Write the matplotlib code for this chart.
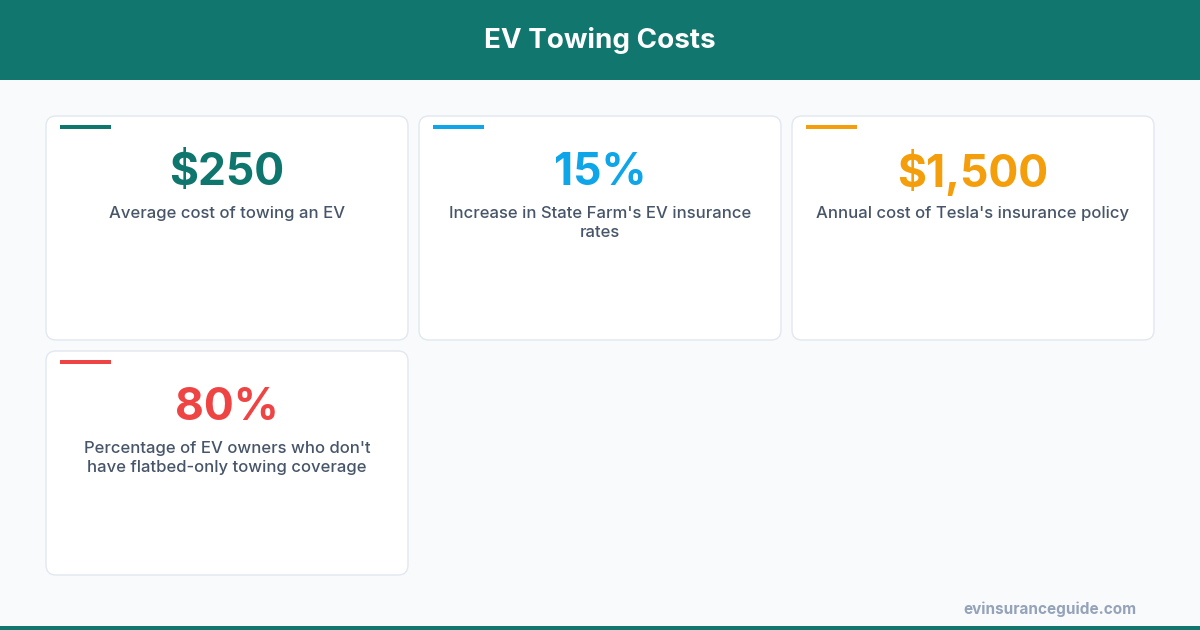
import matplotlib
matplotlib.use("Agg")
import matplotlib.pyplot as plt
from matplotlib.patches import FancyBboxPatch, Rectangle

title = "EV Towing Costs"
values = ["$250", "15%", "$1,500", "80%"]
labels = ["Average cost of towing an EV",
          "Increase in State Farm's EV insurance\nrates",
          "Annual cost of Tesla's insurance policy",
          "Percentage of EV owners who don't\nhave flatbed-only towing coverage"]
colors = ["#0f766e", "#0ea5e9", "#f59e0b", "#ef4444"]
footer = "evinsuranceguide.com"

fig = plt.figure(figsize=(12, 6.3), dpi=100)
fig.patch.set_facecolor("#f8fafc")
ax = fig.add_axes([0, 0, 1, 1])
ax.set_xlim(0, 1200); ax.set_ylim(630, 0); ax.axis("off")
FONT = "Inter"

ax.add_patch(Rectangle((0, 0), 1200, 80, color="#10766e", lw=0))
ax.text(600, 41, title, ha="center", va="center", color="white", fontsize=20, fontweight="bold", family=FONT)
ax.add_patch(Rectangle((0, 626), 1200, 4, color="#10766e", lw=0))

cw, ch = 362, 224
for i, (v, l, c) in enumerate(zip(values, labels, colors)):
    col, row = i % 3, i // 3
    x0 = 46 + col * 373
    y0 = 116 + row * 235
    ax.add_patch(FancyBboxPatch((x0, y0), cw, ch, boxstyle="round,pad=0,rounding_size=10",
                                fc="white", ec="#e2e8f0", lw=1))
    ax.add_patch(Rectangle((x0 + 14, y0 + 9), 51, 4, color=c, lw=0))
    ax.text(x0 + cw / 2, y0 + 57, v, ha="center", va="center", color=c, fontsize=32, fontweight="bold", family=FONT)
    ax.text(x0 + cw / 2, y0 + 90, l, ha="center", va="top", color="#475569", fontsize=12, fontweight="medium",
            family=FONT, linespacing=1.35)

ax.text(1136, 609, footer, ha="right", va="center", color="#94a3b8", fontsize=11, fontweight="bold", family=FONT)
fig.savefig("out.png", dpi=100, facecolor=fig.get_facecolor())
